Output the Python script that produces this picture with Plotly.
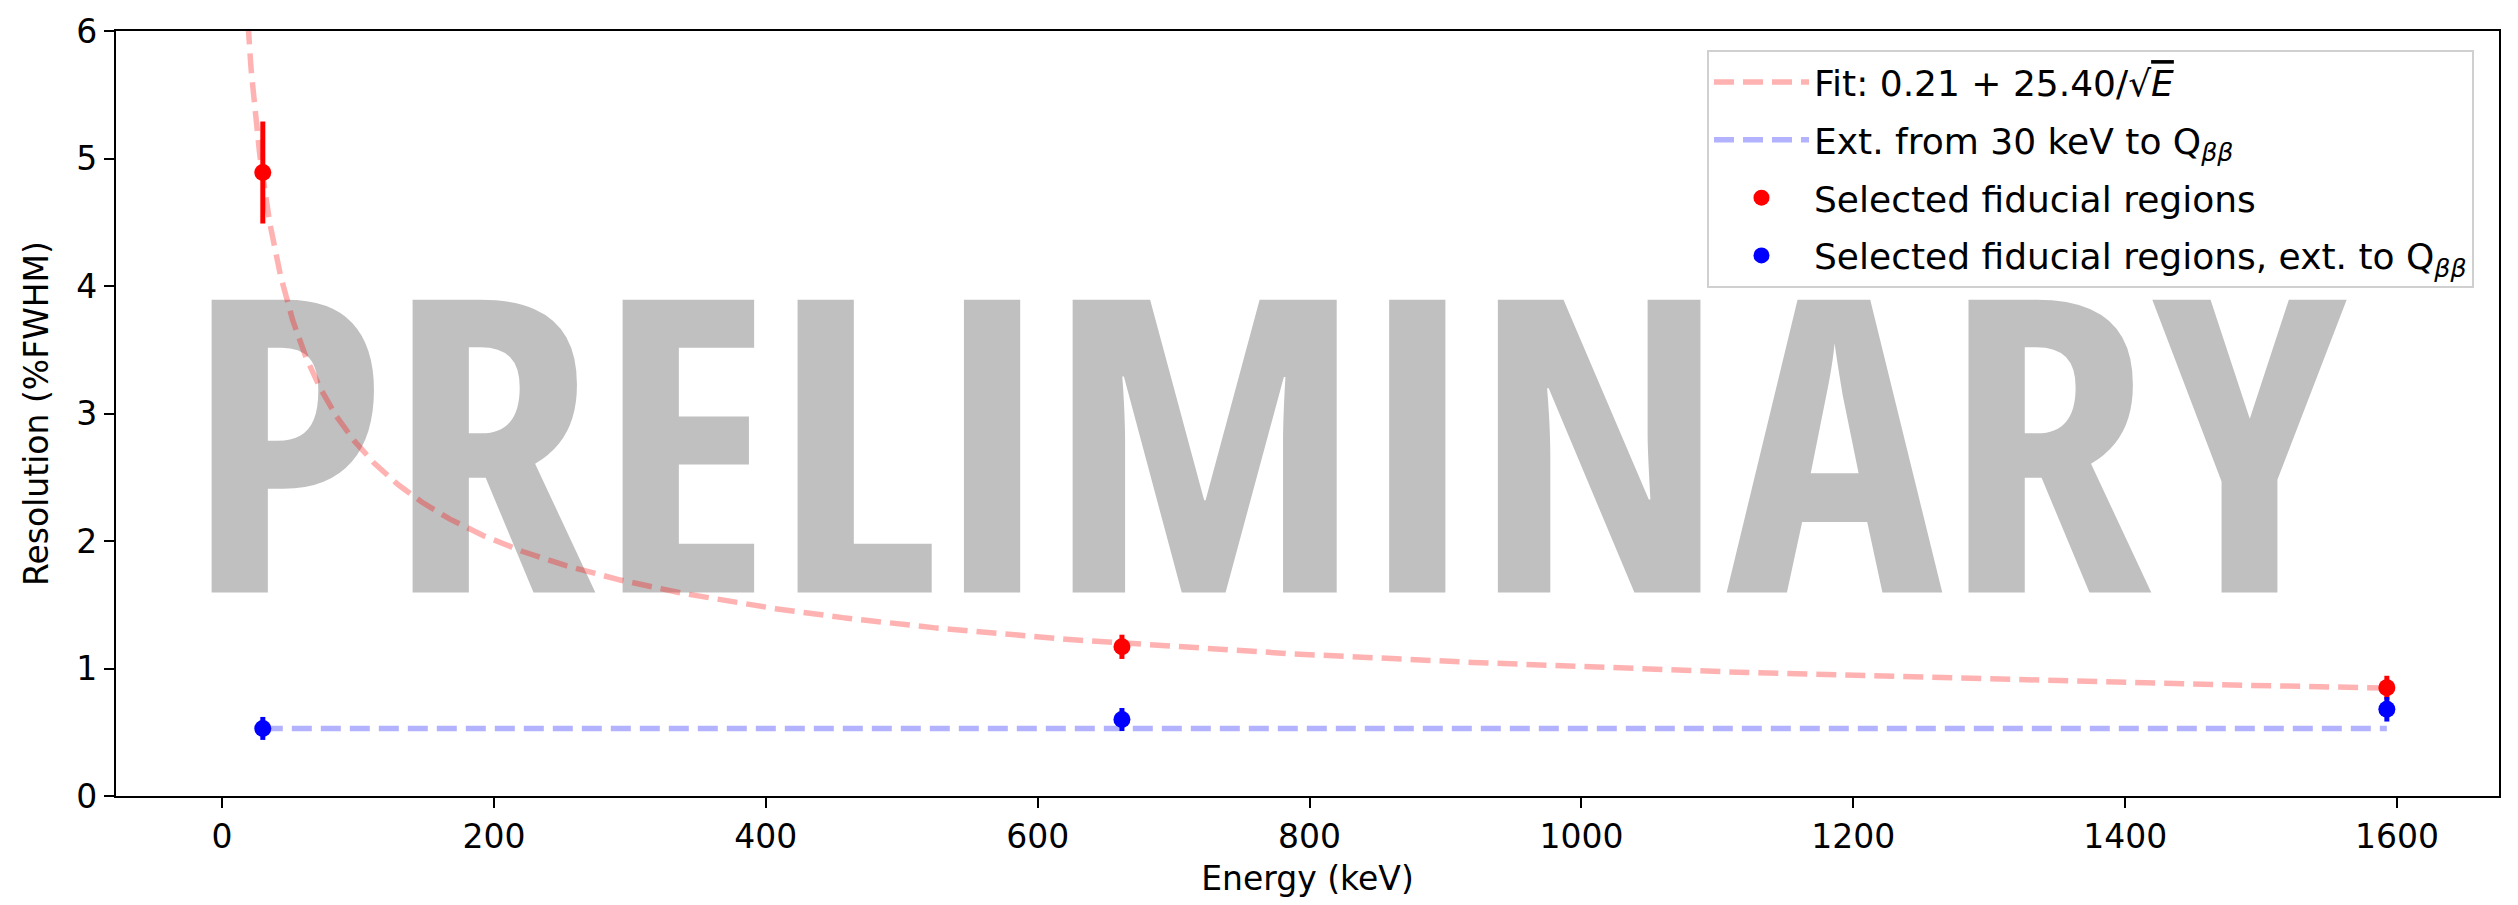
import numpy as np
import plotly.graph_objects as go

# Calibration peaks (keV)
energies = [30.0, 662.0, 1592.5]

# Measured resolution in selected fiducial regions (%FWHM)
res_measured = [4.89, 1.17, 0.85]
err_measured = [0.40, 0.095, 0.093]

# Same regions, extrapolated to Q_bb
res_extrap = [0.53, 0.60, 0.68]
err_extrap = [0.09, 0.09, 0.096]

# Fit parameters: R(E) = a + b / sqrt(E)
fit_a = 0.21
fit_b = 25.40
fit_e_min = 1.0
fit_e_max = 1592.5

x_ticks = [0, 200, 400, 600, 800, 1000, 1200, 1400, 1600]
y_ticks = [0, 1, 2, 3, 4, 5, 6]

FONT = "DejaVu Sans, Verdana, sans-serif"
FS = 33
LEG_FS = 36

e_fit = np.linspace(fit_e_min, fit_e_max, 3000)
r_fit = fit_a + fit_b / np.sqrt(e_fit)

ext_x = [energies[0], energies[-1]]
ext_y = [res_extrap[0], res_extrap[0]]

fig = go.Figure()

# Watermark, drawn first so every other trace sits on top of it
fig.add_trace(go.Scatter(
    x=[768], y=[2.40], mode="text",
    text=['<span style="font-family:Open Sans;font-stretch:condensed;font-weight:750">PRELIMINARY</span>'],
    textposition="middle center",
    textfont=dict(family="Open Sans, sans-serif", size=410, color="#c0c0c0"),
    showlegend=False, hoverinfo="skip", cliponaxis=False,
))

fig.add_trace(go.Scatter(
    x=e_fit, y=r_fit, mode="lines",
    line=dict(color="rgba(255,0,0,0.3)", width=5.5, dash="20px,9px"),
    name=f"Fit: {fit_a:.2f} + {fit_b:.2f}/√<span style=\"text-decoration:overline\"><i>E</i></span>",
    legendgroup="g1",
))

fig.add_trace(go.Scatter(
    x=ext_x, y=ext_y, mode="lines",
    line=dict(color="rgba(0,0,255,0.3)", width=5.5, dash="20px,9px"),
    name="Ext. from 30 keV to Q<sub><i>ββ</i></sub>",
    legendgroup="g2",
))

fig.add_trace(go.Scatter(
    x=energies, y=res_measured, mode="markers",
    marker=dict(color="#ff0000", size=17),
    error_y=dict(type="data", array=err_measured, color="#ff0000", thickness=5, width=0),
    name="Selected fiducial regions",
    legendgroup="g3",
))

fig.add_trace(go.Scatter(
    x=energies, y=res_extrap, mode="markers",
    marker=dict(color="#0000ff", size=17),
    error_y=dict(type="data", array=err_extrap, color="#0000ff", thickness=5, width=0),
    name="Selected fiducial regions, ext. to Q<sub><i>ββ</i></sub>",
    legendgroup="g4",
))

axis_common = dict(
    showline=True, linecolor="black", linewidth=2.2, mirror=True,
    ticks="outside", ticklen=10, tickwidth=2.2, tickcolor="black",
    showgrid=False, zeroline=False,
    tickfont=dict(family=FONT, size=FS, color="black"),
)

fig.update_layout(
    width=2518, height=905,
    margin=dict(l=116, r=19, t=24, b=109),
    paper_bgcolor="white", plot_bgcolor="white",
    font=dict(family=FONT, size=FS, color="black"),
    xaxis=dict(range=[-78, 1675], tickvals=x_ticks,
               title=dict(text="Energy (keV)", font=dict(family=FONT, size=FS), standoff=12),
               **axis_common),
    yaxis=dict(range=[0, 6], tickvals=y_ticks,
               title=dict(text="Resolution (%FWHM)", font=dict(family=FONT, size=FS), standoff=18),
               **axis_common),
    legend=dict(
        x=0.9895, y=0.975, xanchor="right", yanchor="top",
        bgcolor="rgba(255,255,255,0.8)", bordercolor="#d0d0d0", borderwidth=2,
        font=dict(family=FONT, size=LEG_FS, color="black"),
        traceorder="grouped", tracegroupgap=8, itemwidth=95,
    ),
    showlegend=True,
)

fig.write_html("out.html")
